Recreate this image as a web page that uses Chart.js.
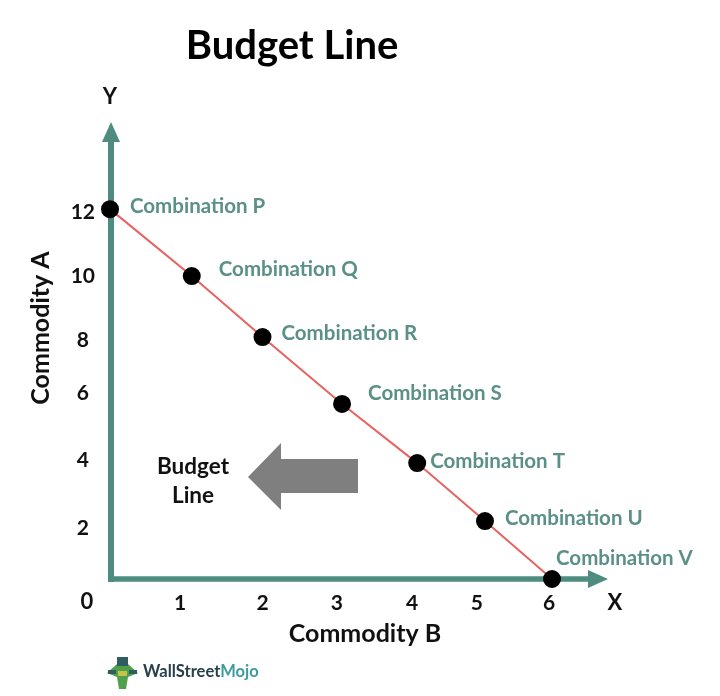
<!DOCTYPE html>
<html><head><meta charset="utf-8">
<style>html,body{margin:0;padding:0;background:#fff}canvas{display:block}</style>
<script src="https://cdn.jsdelivr.net/npm/chart.js@4"></script>
</head><body><canvas id="c" width="720" height="696"></canvas>
<script>
const combinations = ['Combination P','Combination Q','Combination R','Combination S','Combination T','Combination U','Combination V'];
const commodityB = [0, 1.11, 2.07, 3.15, 4.17, 5.09, 6.0];
const commodityA = [12, 9.83, 7.85, 5.68, 3.76, 1.88, 0];
const xTickLabels = ['1','2','3','4','5','6'];
const xTickPlaces = [0.95, 2.07, 3.08, 4.1, 4.98, 5.96];
const yTickLabels = ['2','4','6','8','10','12'];
const yTickPlaces = [1.65, 3.86, 6.03, 7.75, 9.83, 11.9];

const TEAL='#4E8C80', LABEL='#5A9085', FONT='Lato';
const labelOffsets=[[20,-3],[27,-7],[19,-4],[26,-11],[13,-2],[20,-3],[4,-21]];

const scene={id:'scene',
 afterLayout(ch){ const t=ch.titleBlock; t.left=0; t.right=584; },
 beforeDatasetsDraw(ch){
  const c=ch.ctx,a=ch.chartArea,x0=a.left+1,y0=a.bottom;
  c.save();
  c.strokeStyle=TEAL;c.fillStyle=TEAL;c.lineWidth=6;
  c.beginPath();c.moveTo(x0,y0+3);c.lineTo(x0,a.top+15);c.stroke();
  c.beginPath();c.moveTo(x0,a.top-3);c.lineTo(x0-9,a.top+17);c.lineTo(x0+9,a.top+17);c.closePath();c.fill();
  c.lineWidth=5.5;
  c.beginPath();c.moveTo(x0-3,y0);c.lineTo(a.right-15,y0);c.stroke();
  c.beginPath();c.moveTo(a.right,y0);c.lineTo(a.right-20,y0-9);c.lineTo(a.right-20,y0+9);c.closePath();c.fill();
  // big grey arrow
  c.fillStyle='#7F7F7F';c.beginPath();
  [[248,477],[281,443],[281,459],[358,459],[358,493],[281,493],[281,510]].forEach((p,i)=>i?c.lineTo(p[0],p[1]):c.moveTo(p[0],p[1]));
  c.closePath();c.fill();
  c.restore();
 },
 afterDraw(ch){
  const c=ch.ctx,X=ch.scales.x,Y=ch.scales.y;
  c.save();c.textBaseline='middle';
  c.font='bold 20.5px '+FONT;c.fillStyle=LABEL;c.textAlign='left';
  combinations.forEach((n,i)=>c.fillText(n,X.getPixelForValue(commodityB[i])+labelOffsets[i][0],Y.getPixelForValue(commodityA[i])+labelOffsets[i][1]));
  c.fillStyle='#111';c.textAlign='center';
  c.font='bold 25px '+FONT;
  c.fillText('Commodity B',365,634);
  c.save();c.translate(41,328);c.rotate(-Math.PI/2);c.fillText('Commodity A',0,0);c.restore();
  c.font='bold 22px '+FONT;
  c.fillText('Y',110,97);c.fillText('X',615,603);c.fillText('0',87,602);
  c.font='bold 22.5px '+FONT;
  c.fillText('Budget',193,467);c.fillText('Line',193,496);
  // logo
  c.fillStyle='#4FA04A';c.beginPath();c.moveTo(107,673);c.lineTo(117,664);c.lineTo(128,664);c.lineTo(138,673);c.lineTo(128,677);c.lineTo(126,689);c.lineTo(119,689);c.lineTo(117,677);c.closePath();c.fill();
  c.fillStyle='#2F5D62';c.fillRect(117,657,11,9);c.fillRect(108,670,8,4);c.fillRect(129,670,8,4);
  c.fillStyle='#C9C24A';c.fillRect(118,671,9,5);
  c.font='bold 16.5px '+FONT;c.textAlign='left';
  c.fillStyle='#27404A';c.fillText('WallStreet',143,672);
  const w=c.measureText('WallStreet').width;
  c.fillStyle='#3E9CA0';c.fillText('Mojo',143+w,672);
  c.restore();
 }};

new Chart(document.getElementById('c'),{
 type:'scatter',
 plugins:[scene],
 data:{datasets:[{label:'Budget Line',
  data:commodityB.map((b,i)=>({x:b,y:commodityA[i]})),
  showLine:true,tension:0,borderColor:'#E8625F',borderWidth:2,
  pointBackgroundColor:'#000',pointBorderColor:'#000',pointRadius:8,pointHoverRadius:8,clip:false}]},
 options:{responsive:false,animation:false,
  layout:{padding:{right:112}},
  plugins:{legend:{display:false},tooltip:{enabled:false},
   title:{display:true,text:'Budget Line',color:'#000',font:{family:FONT,size:40,weight:'bold',lineHeight:1.2},padding:{top:22,bottom:55}}},
  scales:{
   x:{type:'linear',min:0,max:6.76,border:{display:false},grid:{display:false,drawTicks:false},
    afterFit(s){s.height=117;},
    afterBuildTicks(s){s.ticks=xTickPlaces.map(v=>({value:v}));},
    ticks:{autoSkip:false,maxRotation:0,padding:12,color:'#111',font:{family:FONT,size:21,weight:'bold'},callback:(v,i)=>xTickLabels[i]}},
   y:{type:'linear',min:0,max:14.73,border:{display:false},grid:{display:false,drawTicks:false},
    afterFit(s){s.width=110;},
    afterBuildTicks(s){s.ticks=yTickPlaces.map(v=>({value:v}));},
    ticks:{autoSkip:false,padding:15,crossAlign:'center',color:'#111',font:{family:FONT,size:21,weight:'bold'},callback:(v,i)=>yTickLabels[i]}}
  }}
});
</script></body></html>
